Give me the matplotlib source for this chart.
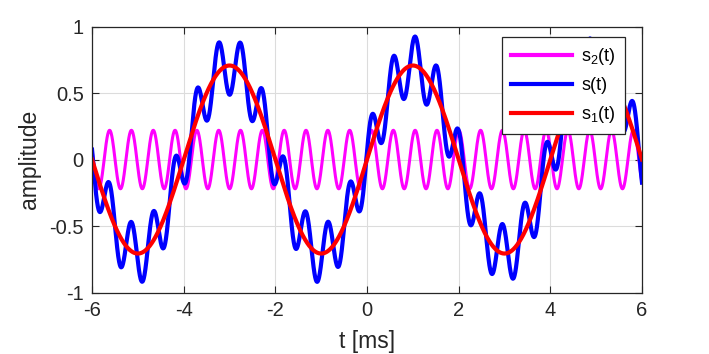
import numpy as np
import matplotlib
matplotlib.use("Agg")
import matplotlib.pyplot as plt

# valori
t_min, t_max = -6.0, 6.0          # ms
a1, f1 = 0.707, 0.25              # s1: ampiezza, frequenza [kHz]
a2, f2 = 0.22, 2.1                # s2: ampiezza, frequenza [kHz]
t2_peak = 1.05                    # istante di un massimo di s2 [ms]

x_ticks = [-6, -4, -2, 0, 2, 4, 6]
y_ticks = [-1, -0.5, 0, 0.5, 1]
y_tick_labels = ["-1", "-0.5", "0", "0.5", "1"]
labels = ["s$_2$(t)", "s(t)", "s$_1$(t)"]
colors = ["#ff00ff", "#0000ff", "#ff0000"]

t = np.linspace(t_min, t_max, 3000)
s1 = a1 * np.sin(2 * np.pi * f1 * t)
s2 = a2 * np.cos(2 * np.pi * f2 * (t - t2_peak))
s = s1 + s2

plt.rcParams["font.family"] = ["Liberation Sans", "DejaVu Sans"]
plt.rcParams["axes.unicode_minus"] = False
plt.rcParams["mathtext.fontset"] = "custom"
plt.rcParams["mathtext.rm"] = "Liberation Sans"
plt.rcParams["mathtext.it"] = "Liberation Sans"

dark = "#262626"
fig = plt.figure(figsize=(7.09, 3.54), dpi=100)
ax = fig.add_axes([0.1298, 0.1737, 0.7757, 0.7513])

ax.plot(t, s2, color=colors[0], lw=2.2, label=labels[0])
ax.plot(t, s, color=colors[1], lw=3.0, label=labels[1])
ax.plot(t, s1, color=colors[2], lw=3.0, label=labels[2])

ax.set_xlim(t_min, t_max)
ax.set_ylim(-1, 1)
ax.set_xticks(x_ticks)
ax.set_yticks(y_ticks)
ax.set_yticklabels(y_tick_labels)
ax.grid(True, color="#dcdcdc", lw=0.8)
ax.set_axisbelow(True)
ax.tick_params(direction="in", top=True, right=True, length=5, width=0.8,
               labelsize=14.5, colors=dark, pad=6)
for sp in ax.spines.values():
    sp.set_color(dark)
    sp.set_linewidth(0.9)

ax.set_xlabel("t [ms]", fontsize=16.5, color=dark, labelpad=7)
ax.set_ylabel("amplitude", fontsize=16.5, color=dark, labelpad=6)

leg = ax.legend(loc="upper right", bbox_to_anchor=(0.969, 0.96), fontsize=13,
                fancybox=False, framealpha=1, edgecolor=dark, handlelength=3.4,
                borderpad=0.5, labelspacing=0.55, handletextpad=0.5,
                borderaxespad=0)
leg.get_frame().set_linewidth(0.9)
for line in leg.get_lines():
    line.set_linewidth(3.0)

fig.savefig("out.png", dpi=100)
